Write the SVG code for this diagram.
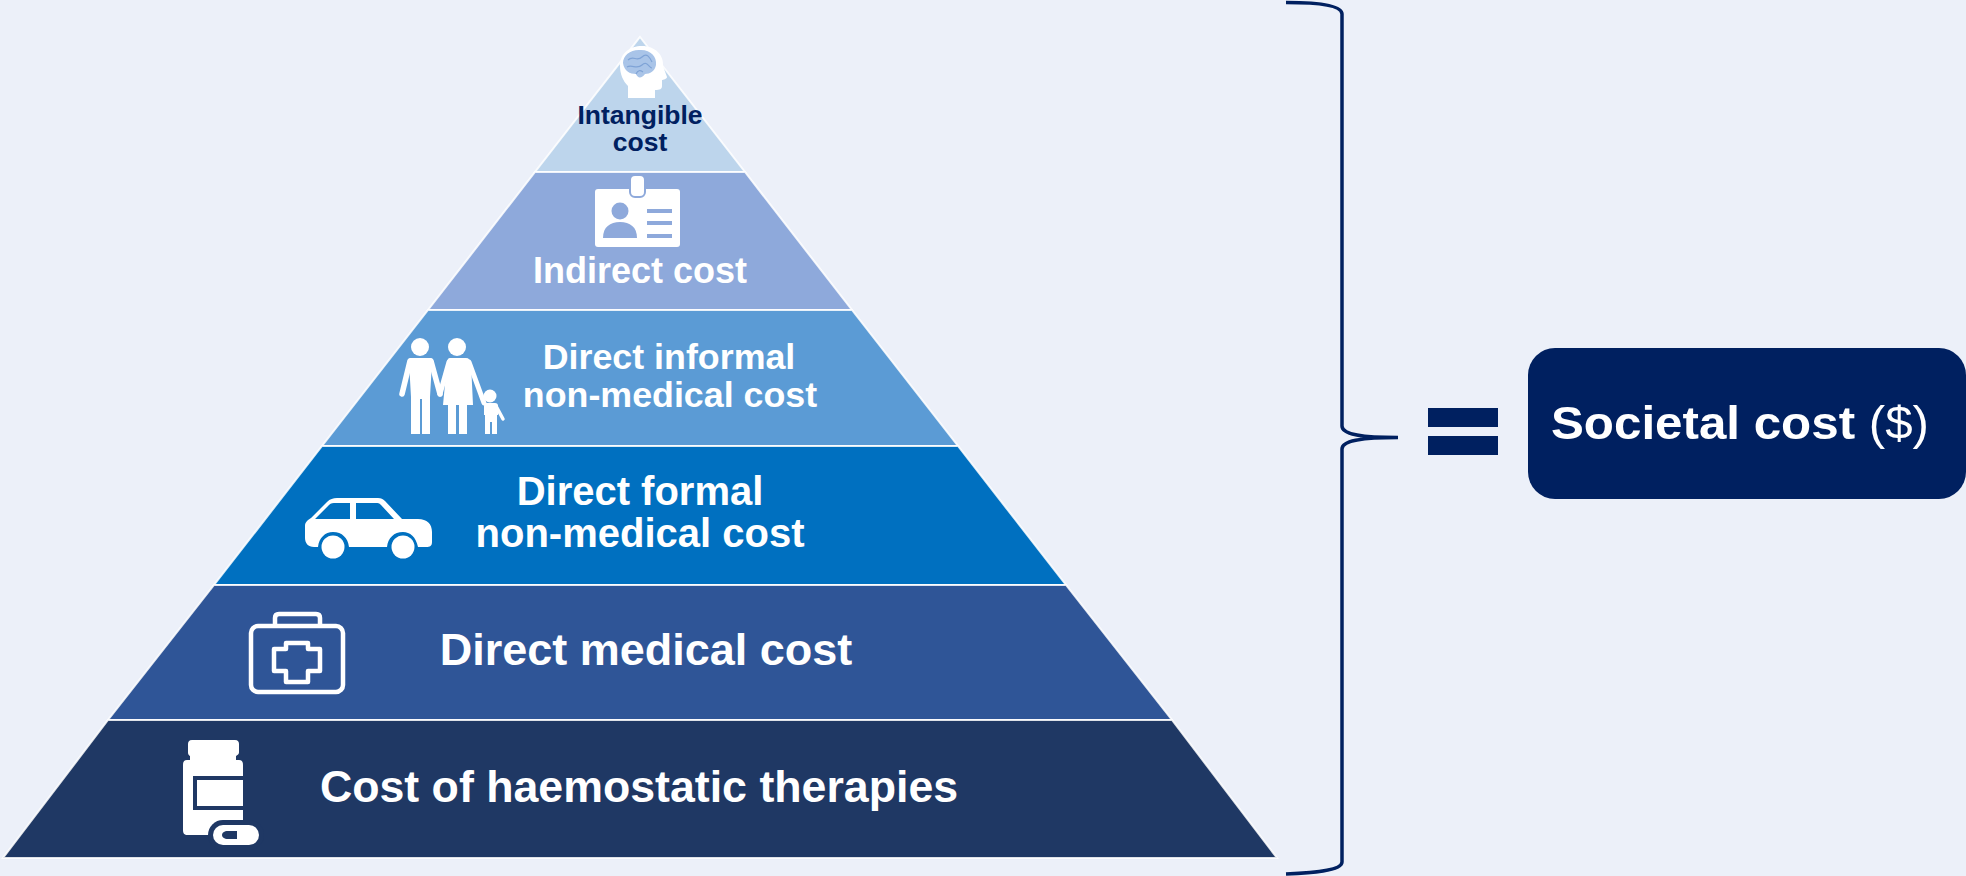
<svg xmlns="http://www.w3.org/2000/svg" width="1966" height="876" viewBox="0 0 1966 876">
<style>
text{font-family:"Liberation Sans",Arial,sans-serif;font-weight:700;fill:#fff;text-anchor:middle}
.lvl{stroke:#fff;stroke-width:2;stroke-opacity:.85}
.w{fill:#fff}
.o{fill:none;stroke:#fff;stroke-width:4.5;stroke-linejoin:round}
.limb{fill:none;stroke:#fff;stroke-linecap:round;stroke-linejoin:round}
</style>
<rect width="1966" height="876" fill="#ecf0f9"/>
<g id="connectors">
<path d="M1286 2.500C1310 2.500 1342 4 1342 14V426C1342 434 1360 437.500 1398 437.500C1360 437.500 1342 441 1342 449V862C1342 871 1310 873 1286 874" fill="none" stroke="#002060" stroke-width="3.500"/>
</g>
<g id="level-intangible">
<path class="lvl" d="M640 37L745 172H535Z" fill="#bdd5ec"/>
<path class="w" d="M620 66C620 53 630 46 642 46C655 46 664 55 663 66L667 77C667 79 663 80 662 80V86C662 89 660 90 655 90V98H628V86C623 81 620 74 620 66Z"/>
<path d="M623 63C623 55 631 49 641 50C651 50 657 57 656 65C655 71 650 74 645 74C642 78 638 79 636 74C630 74 624 71 623 63Z" fill="#a9c4e8"/>
<path d="M628 60C633 55 637 62 642 57S650 58 652 62M627 67C632 64 637 70 642 65S649 68 652 68M636 74C638 70 640 70 643 72" fill="none" stroke="#7fa3d6" stroke-width="1.200"/>
<text x="640" y="124" font-size="26.500" style="fill:#002060">Intangible</text>
<text x="640" y="151" font-size="26.500" style="fill:#002060">cost</text>
</g>
<g id="level-indirect">
<path class="lvl" d="M535 172H745L852 310H428Z" fill="#8ea9db"/>
<rect class="w" x="595" y="189" width="85" height="58" rx="3"/>
<rect x="630" y="175" width="15" height="22" rx="5" fill="#fff" stroke="#8ea9db" stroke-width="2"/>
<circle cx="620" cy="211" r="8.500" fill="#8ea9db"/>
<path d="M603 238C603 227 610 222 620 222C630 222 637 227 637 238Z" fill="#8ea9db"/>
<path d="M647 211H672M647 223H672M647 236H672" stroke="#8ea9db" stroke-width="4" fill="none"/>
<text x="640" y="283" font-size="36">Indirect cost</text>
</g>
<g id="level-informal">
<path class="lvl" d="M428 310H852L958 446H322Z" fill="#5b9bd5"/>
<circle class="w" cx="420" cy="347" r="9"/>
<circle class="w" cx="457" cy="347" r="9"/>
<circle class="w" cx="490" cy="396" r="6.500"/>
<path class="w" d="M410 358H431C432 358 432 359 432 362L430 397V434H422V399H420V434H411V397L409 362C409 359 409 358 410 358Z"/>
<path class="limb" stroke-width="5.500" d="M410 361L402 394M431 361L440 394"/>
<path class="w" d="M450 358H466C469 358 470 360 471 363L473 405H467V434H459V405H456V434H448V405H443L447 363C447 360 448 358 450 358Z"/>
<path class="limb" stroke-width="5" d="M449 362L440 394M469 362L484 403"/>
<path class="w" d="M486 403H495C497 403 498 404 498 406V415H497V434H492V422H490V434H485V415H484V406C484 404 485 403 486 403Z"/>
<path class="limb" stroke-width="3.500" d="M496 406L503 419"/>
<text x="669" y="369" font-size="35.800">Direct informal</text>
<text x="670" y="407" font-size="35.800">non-medical cost</text>
</g>
<g id="level-formal">
<path class="lvl" d="M322 446H958L1066 585H214Z" fill="#0070c0"/>
<path class="w" d="M305 526C305 522 308 520 311 518L327 502C330 499 333 498 337 498H378C381 498 383 499 385 501L402 519H418C427 519 432 524 432 532V542C432 546 430 547 426 547H418C416 537 410 532 403 532C394 532 388 538 387 547H349C348 538 342 532 333 532C325 532 319 538 318 547H314C308 547 305 543 305 538Z"/>
<path d="M315 519L329 505C331 503 333 503 336 503H350V519ZM356 503H376C378 503 379 503 381 505L394 519H356Z" fill="#0070c0"/>
<circle class="w" cx="333" cy="547" r="11.500"/>
<circle class="w" cx="403" cy="547" r="11.500"/>
<text x="640" y="505" font-size="40">Direct formal</text>
<text x="640" y="547" font-size="40">non-medical cost</text>
</g>
<g id="level-medical">
<path class="lvl" d="M214 585H1066L1172 720H108Z" fill="#2f5597"/>
<rect class="o" x="251" y="626" width="92" height="66" rx="7"/>
<path class="o" d="M275 626V618C275 615 277 614 279 614H316C318 614 320 615 320 618V626"/>
<path class="o" d="M286 643H308V649H320V671H308V682H286V671H274V649H286Z"/>
<text x="646" y="665" font-size="45">Direct medical cost</text>
</g>
<g id="level-therapies">
<path class="lvl" d="M108 720H1172L1277 858H3Z" fill="#1f3864"/>
<path class="w" d="M192 740H235C238 740 239 742 239 744V752C239 755 237 755 236 756V760H239C242 760 243 762 243 765V835H188C184 835 183 833 183 830V765C183 762 184 760 187 760H190V756C189 755 188 755 188 752V744C188 742 189 740 192 740Z"/>
<path d="M245 778H195V808H245" fill="none" stroke="#1f3864" stroke-width="4"/>
<rect x="208" y="820" width="56" height="30" rx="15" fill="#1f3864"/>
<rect class="w" x="213" y="825" width="46" height="20" rx="10"/>
<path d="M237 831H228C224 831 222 833 222 835C222 837 224 839 228 839H237Z" fill="#1f3864"/>
<text x="639" y="802" font-size="44.700">Cost of haemostatic therapies</text>
</g>
<g id="equals-sign">
<rect x="1428" y="408" width="70" height="19" fill="#002060"/>
<rect x="1428" y="436" width="70" height="19" fill="#002060"/>
</g>
<g id="societal-cost">
<rect x="1528" y="348" width="438" height="151" rx="27" fill="#002060"/>
<text x="1740" y="439" font-size="47" textLength="378" lengthAdjust="spacingAndGlyphs">Societal cost <tspan style="font-weight:400">($)</tspan></text>
</g>
</svg>
